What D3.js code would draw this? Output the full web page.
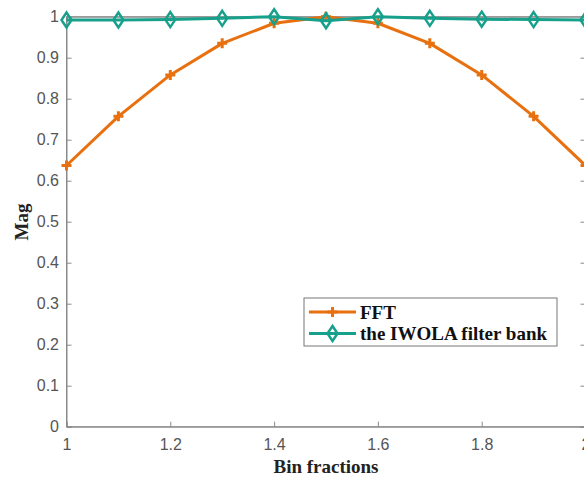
<!DOCTYPE html>
<html><head><meta charset="utf-8">
<script src="https://cdn.jsdelivr.net/npm/d3@7"></script>
<style>body{margin:0;background:#fff}svg{display:block}</style>
</head><body>
<svg id="c" width="584" height="479"></svg>
<script>
const binFractions = [1.0,1.1,1.2,1.3,1.4,1.5,1.6,1.7,1.8,1.9,2.0];
const fftMag = [0.637,0.757,0.858,0.935,0.984,1.0,0.984,0.935,0.858,0.757,0.637];
const iwolaMag = [0.992,0.992,0.993,0.996,1.0,0.99,1.0,0.996,0.994,0.993,0.992];
const xTicks = [1,1.2,1.4,1.6,1.8,2];
const yTicks = [0,0.1,0.2,0.3,0.4,0.5,0.6,0.7,0.8,0.9,1];
const seriesNames = ["FFT","the IWOLA filter bank"];
const colors = ["#E8700F","#17A08B"];

const svg = d3.select("#c");
const L=66.5, R=585.5, T=16.7, B=426.7;
const x = d3.scaleLinear().domain([1,2]).range([L,R]);
const y = d3.scaleLinear().domain([0,1]).range([B,T]);
const axCol = "#8a8a8a";
const fontTick = "Liberation Sans, Arial, sans-serif";
const serif = "Liberation Serif, Times New Roman, serif";

// box
svg.append("rect").attr("x",L).attr("y",T).attr("width",R-L).attr("height",B-T)
  .attr("fill","none").attr("stroke",axCol).attr("stroke-width",1);

const gx = svg.append("g").attr("transform",`translate(0,${B})`)
  .call(d3.axisBottom(x).tickValues(xTicks).tickSize(-5).tickPadding(11.5).tickFormat(d3.format("")));
const gy = svg.append("g").attr("transform",`translate(${L},0)`)
  .call(d3.axisLeft(y).tickValues(yTicks).tickSize(-5).tickPadding(7.5).tickFormat(d3.format("")));
const gt = svg.append("g").attr("transform",`translate(0,${T})`)
  .call(d3.axisTop(x).tickValues(xTicks).tickSize(-5).tickFormat(""));
const gr = svg.append("g").attr("transform",`translate(${R},0)`)
  .call(d3.axisRight(y).tickValues(yTicks).tickSize(-5).tickFormat(""));
[gx,gy,gt,gr].forEach(g=>{
  g.select(".domain").attr("stroke",axCol);
  g.selectAll(".tick line").attr("stroke",axCol);
  g.selectAll(".tick text").attr("fill","#555").style("font-family",fontTick).style("font-size","16px");
});

const line = d3.line().x((d,i)=>x(binFractions[i])).y(d=>y(d));
const plusPath = s => `M${-s},0H${s}M0,${-s}V${s}`;
const diamondPath = (w,h) => `M0,${-h}L${w},0L0,${h}L${-w},0Z`;

function drawSeries(vals, col, kind){
  svg.append("path").datum(vals).attr("d",line).attr("fill","none")
    .attr("stroke",col).attr("stroke-width",3).attr("stroke-linejoin","round");
  svg.append("g").selectAll("path").data(vals).join("path")
    .attr("transform",(d,i)=>`translate(${x(binFractions[i])},${y(d)})`)
    .attr("d", kind==="plus" ? plusPath(5) : diamondPath(5,7.5))
    .attr("fill","none").attr("stroke",col).attr("stroke-width",kind==="plus"?3:2.5);
}
drawSeries(fftMag, colors[0], "plus");
drawSeries(iwolaMag, colors[1], "diamond");

// labels
svg.append("text").attr("x",326).attr("y",473).attr("text-anchor","middle")
  .style("font-family",serif).style("font-weight","bold")
  .style("font-size","19px").attr("fill","#222").text("Bin fractions");
svg.append("text").attr("transform","translate(28,222) rotate(-90)").attr("text-anchor","middle")
  .style("font-family",serif).style("font-weight","bold")
  .style("font-size","19px").attr("fill","#222").text("Mag");

// legend
const lg = svg.append("g");
lg.append("rect").attr("x",304).attr("y",298).attr("width",253).attr("height",48)
  .attr("fill","#fff").attr("stroke","#777").attr("stroke-width",1);
seriesNames.forEach((n,i)=>{
  const cy = 312 + i*21.5;
  lg.append("line").attr("x1",309).attr("x2",356).attr("y1",cy).attr("y2",cy)
    .attr("stroke",colors[i]).attr("stroke-width",3);
  lg.append("path").attr("transform",`translate(332.5,${cy})`)
    .attr("d", i===0 ? plusPath(5) : diamondPath(5,7.5))
    .attr("fill","none").attr("stroke",colors[i]).attr("stroke-width",i===0?3:2.5);
  lg.append("text").attr("x",360).attr("y",cy+6.5)
    .style("font-family",serif).style("font-weight","bold")
    .style("font-size","19px").attr("fill","#111").text(n);
});
</script>
</body></html>
